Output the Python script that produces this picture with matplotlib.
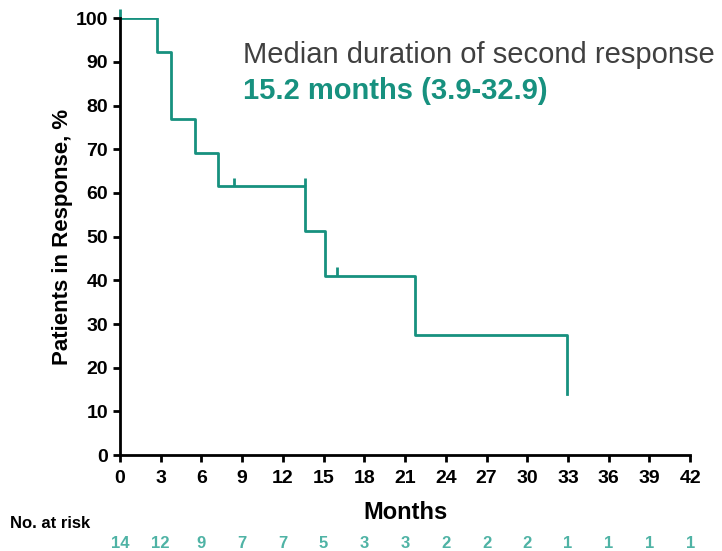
import matplotlib
matplotlib.use("Agg")
import matplotlib.pyplot as plt

plt.rcParams['font.family'] = ['Liberation Sans', 'DejaVu Sans']

# step curve (months, % in response)
times = [0, 2.7, 3.8, 5.5, 7.2, 13.6, 15.1, 21.7, 32.9, 32.9]
surv = [100, 92.3, 76.9, 69.2, 61.5, 51.3, 41.0, 27.4, 27.4, 14.0]
censor_t = [0, 8.4, 13.6, 16.0]
censor_s = [100, 61.5, 61.5, 41.0]
xticks = list(range(0, 43, 3))
at_risk = [14, 12, 9, 7, 7, 5, 3, 3, 2, 2, 2, 1, 1, 1, 1]

teal = '#17917f'
teal_light = '#4fb3a5'

fig = plt.figure(figsize=(7.22, 5.51), dpi=100)
ax = fig.add_axes([0.166, 0.174, 0.79, 0.793])

ax.step(times, surv, where='post', color=teal, lw=2)
ax.vlines(censor_t, censor_s, [s + 2 for s in censor_s], color=teal, lw=2,
          clip_on=False)

ax.set_xlim(0, 42)
ax.set_ylim(0, 100)
ax.set_xticks(xticks)
ax.set_yticks(range(0, 101, 10))
ax.tick_params(labelsize=14, width=2, length=5)
ax.tick_params(axis='x', pad=6)
for lab in ax.get_xticklabels() + ax.get_yticklabels():
    lab.set_fontweight('bold')
for s in ['top', 'right']:
    ax.spines[s].set_visible(False)
for s in ['left', 'bottom']:
    ax.spines[s].set_linewidth(2)
ax.set_xlabel('Months', fontsize=17, fontweight='bold', labelpad=10)
ax.set_ylabel('Patients in Response, %', fontsize=16, fontweight='bold', labelpad=2)

fig.text(243 / 722, 1 - 63 / 551, 'Median duration of second response',
         fontsize=21, color='#404040')
fig.text(243 / 722, 1 - 99 / 551, '15.2 months (3.9-32.9)',
         fontsize=21, color=teal, fontweight='bold')

fig.text(10 / 722, 1 - 528 / 551, 'No. at risk', fontsize=12, fontweight='bold')
for t, n in zip(xticks, at_risk):
    ax.text(t, -0.203, str(n), transform=ax.get_xaxis_transform(),
            ha='center', va='center', fontsize=12, fontweight='bold', color=teal_light)

fig.savefig('out.png', dpi=100)
